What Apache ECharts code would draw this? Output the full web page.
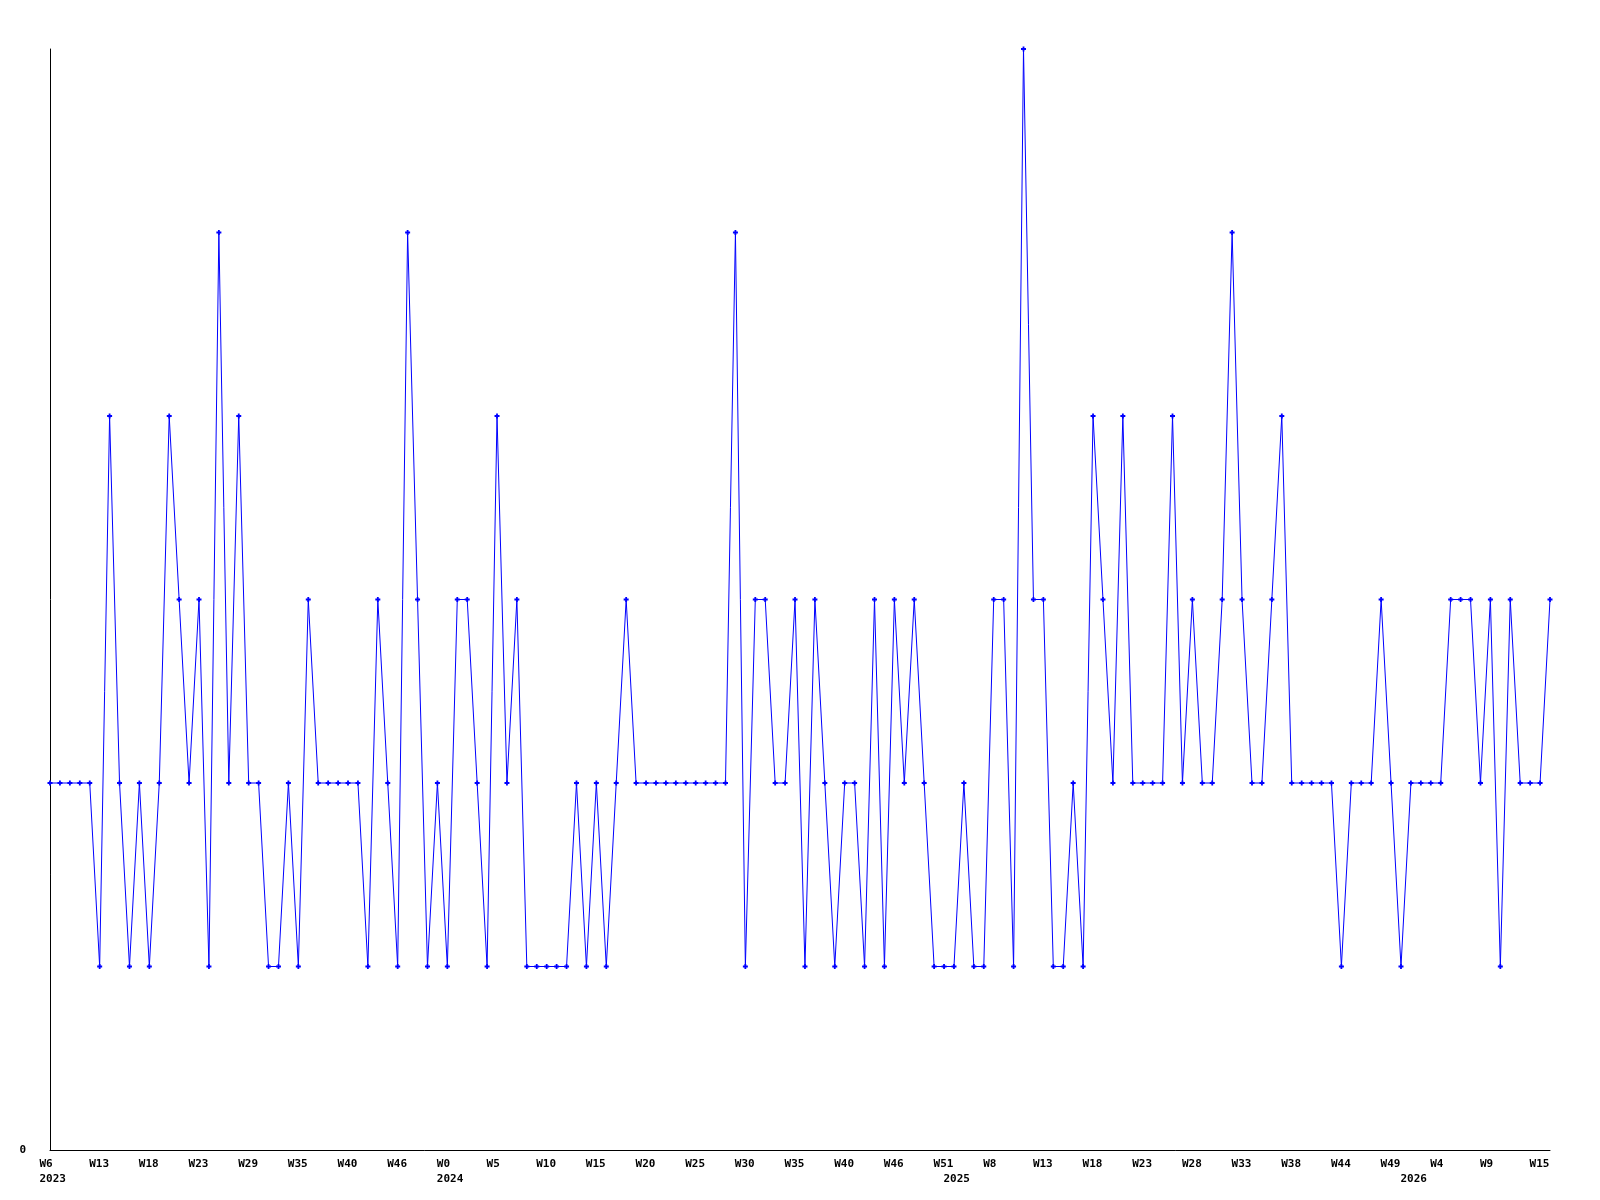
<!DOCTYPE html>
<html>
<head>
<meta charset="utf-8">
<script src="https://cdn.jsdelivr.net/npm/echarts@6/dist/echarts.min.js"></script>
<style>
  html, body { margin: 0; padding: 0; background: #ffffff; }
  #chart { width: 1600px; height: 1200px; }
</style>
</head>
<body>
<div id="chart"></div>
<script>
// Series values (one per data point, left to right)
const values = [
  2, 2, 2, 2, 2, 1, 4, 2, 1, 2,
  1, 2, 4, 3, 2, 3, 1, 5, 2, 4,
  2, 2, 1, 1, 2, 1, 3, 2, 2, 2,
  2, 2, 1, 3, 2, 1, 5, 3, 1, 2,
  1, 3, 3, 2, 1, 4, 2, 3, 1, 1,
  1, 1, 1, 2, 1, 2, 1, 2, 3, 2,
  2, 2, 2, 2, 2, 2, 2, 2, 2, 5,
  1, 3, 3, 2, 2, 3, 1, 3, 2, 1,
  2, 2, 1, 3, 1, 3, 2, 3, 2, 1,
  1, 1, 2, 1, 1, 3, 3, 1, 6, 3,
  3, 1, 1, 2, 1, 4, 3, 2, 4, 2,
  2, 2, 2, 4, 2, 3, 2, 2, 3, 5,
  3, 2, 2, 3, 4, 2, 2, 2, 2, 2,
  1, 2, 2, 2, 3, 2, 1, 2, 2, 2,
  2, 3, 3, 3, 2, 3, 1, 3, 2, 2,
  2, 3
];

// Category positions (one per point)
const categories = values.map((_, i) => String(i));

// Week tick labels, shown on every 5th point
const weekLabelStep = 5;
const weekLabels = [
  'W6', 'W13', 'W18', 'W23', 'W29', 'W35', 'W40', 'W46', 'W0', 'W5',
  'W10', 'W15', 'W20', 'W25', 'W30', 'W35', 'W40', 'W46', 'W51', 'W8',
  'W13', 'W18', 'W23', 'W28', 'W33', 'W38', 'W44', 'W49', 'W4', 'W9',
  'W15'
];

// Year labels and the point where each year starts
const yearLabels = ['2023', '2024', '2025', '2026'];
const yearIndex = [0, 40, 91, 137];

const FONT = '"DejaVu Sans Mono", "Liberation Mono", monospace';

function weekAt(i) {
  if (i % weekLabelStep !== 0) return null;
  const k = i / weekLabelStep;
  return k < weekLabels.length ? weekLabels[k] : null;
}
function yearAt(i) {
  const k = yearIndex.indexOf(i);
  return k >= 0 ? yearLabels[k] : null;
}

const chart = echarts.init(document.getElementById('chart'), null, { renderer: 'canvas' });

const tokenStyle = {
  width: 21,
  align: 'left',
  fontFamily: FONT,
  fontSize: 11,
  fontWeight: 'bold',
  color: '#000000',
  lineHeight: 15
};

chart.setOption({
  animation: false,
  backgroundColor: '#ffffff',
  grid: { left: 50, right: 50, top: 49, bottom: 50, containLabel: false },
  xAxis: {
    type: 'category',
    data: categories,
    boundaryGap: false,
    axisLine: { show: true, lineStyle: { color: '#000000', width: 1 } },
    axisTick: { show: false },
    splitLine: { show: false },
    axisLabel: {
      show: true,
      margin: 7,
      interval: function (index) {
        return weekAt(index) !== null || yearAt(index) !== null;
      },
      formatter: function (value, index) {
        const w = weekAt(index);
        const y = yearAt(index);
        return '{w|' + (w || ' ') + '}\n{y|' + (y || ' ') + '}';
      },
      rich: { w: tokenStyle, y: tokenStyle }
    }
  },
  yAxis: {
    type: 'value',
    min: 0,
    max: 6,
    interval: 1,
    axisLine: { show: true, lineStyle: { color: '#000000', width: 1 } },
    axisTick: { show: false },
    splitLine: { show: false },
    axisLabel: {
      margin: 24,
      fontFamily: FONT,
      fontSize: 11,
      fontWeight: 'bold',
      color: '#000000',
      formatter: function (v) { return v === 0 ? '0' : ''; }
    }
  },
  series: [{
    type: 'line',
    data: values,
    smooth: false,
    symbol: 'path://M0,1.6H1.6V0H3.4V1.6H5V3.4H3.4V5H1.6V3.4H0Z',
    symbolSize: 5,
    showAllSymbol: true,
    lineStyle: { color: '#0000ff', width: 1 },
    itemStyle: { color: '#0000ff', borderWidth: 0 },
    emphasis: { disabled: true }
  }]
});
</script>
</body>
</html>
